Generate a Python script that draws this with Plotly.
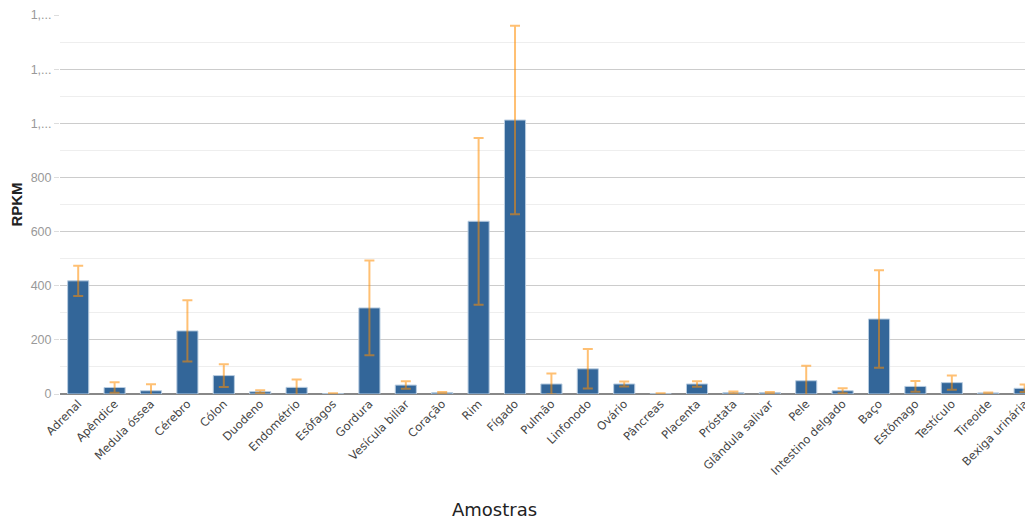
import plotly.graph_objects as go

categories = ["Adrenal", "Apêndice", "Medula óssea", "Cérebro", "Cólon", "Duodeno",
              "Endométrio", "Esôfagos", "Gordura", "Vesícula biliar", "Coração", "Rim",
              "Fígado", "Pulmão", "Linfonodo", "Ovário", "Pâncreas", "Placenta",
              "Próstata", "Glândula salivar", "Pele", "Intestino delgado", "Baço",
              "Estômago", "Testículo", "Tireoide", "Bexiga urinária"]
rpkm = [418, 24, 12, 233, 68, 8.6, 24.5, 1, 318, 33, 5, 638,
        1012, 37, 93, 37, 1, 37, 5, 5, 49, 12, 277, 28, 42, 4, 21]
err = [56, 19, 24, 113, 42, 5, 29.5, 1.5, 175, 14, 2, 308,
       348, 39, 73, 9, 1.5, 10, 4, 2, 55, 9, 180, 20, 26, 2, 14]
ytickvals = [0, 200, 400, 600, 800, 1000, 1200, 1400]
yticktext = ["0", "200", "400", "600", "800", "1,...", "1,...", "1,..."]

fig = go.Figure()
fig.add_trace(go.Bar(
    x=categories, y=rpkm, width=0.58,
    marker=dict(color="#336699", line=dict(color="#b8cce0", width=1)),
    error_y=dict(type="data", array=err, visible=True,
                 color="rgba(255,140,0,0.55)", thickness=2, width=5),
))

fig.update_layout(
    width=1025, height=512,
    margin=dict(l=52, r=0, t=7, b=126),
    plot_bgcolor="white", paper_bgcolor="white",
    showlegend=False,
    xaxis=dict(
        range=[-0.5, 26.23], tickangle=-45,
        tickfont=dict(family="DejaVu Sans", size=11.5, color="#444"),
        showgrid=False, ticks="",
    ),
    yaxis=dict(
        range=[0, 1400], tickvals=ytickvals, ticktext=yticktext,
        tickfont=dict(family="Liberation Sans", size=12.5, color="#999"),
        showgrid=True, gridcolor="#cccccc", gridwidth=1,
        zeroline=True, zerolinecolor="#888888", zerolinewidth=2,
        minor=dict(dtick=100, showgrid=True, gridcolor="#eeeeee", gridwidth=1),
        ticks="outside", ticklen=5, tickcolor="#dddddd",
        title=dict(text="<b>RPKM</b>", font=dict(family="Liberation Sans", size=15, color="#222"), standoff=4),
    ),
    annotations=[dict(
        text="Amostras", xref="paper", yref="paper", x=0.447, y=0,
        yshift=-115, yanchor="middle", showarrow=False,
        font=dict(family="DejaVu Sans", size=18, color="#222"),
    )],
)

fig.write_html("out.html")
